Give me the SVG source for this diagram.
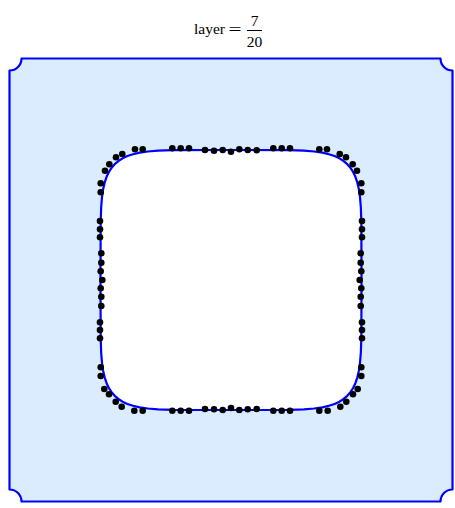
<svg xmlns="http://www.w3.org/2000/svg" width="455" height="508" viewBox="0 0 455 508">
<style>
.t{font-family:"Liberation Serif","Times New Roman",serif;font-size:15.5px;fill:#000}
.dot{fill:#000}
.edge{stroke:#0000ff;stroke-width:2.2;stroke-linejoin:round}
</style>
<rect width="455" height="508" fill="#ffffff"/>
<g id="title">
<text class="t" x="209.5" y="34" text-anchor="middle">layer</text>
<text class="t" x="228.5" y="35" style="font-size:16px" textLength="13" lengthAdjust="spacingAndGlyphs">=</text>
<text class="t" x="254.5" y="25.5" text-anchor="middle">7</text>
<line x1="247" y1="30.5" x2="262" y2="30.5" stroke="#000" stroke-width="1"/>
<text class="t" x="254.5" y="46.5" text-anchor="middle">20</text>
</g>
<g id="frame">
<path class="edge" fill="#dcecff" d="M 21.5 58.5 H 440.5 A 12 12 0 0 0 452.5 70.5 V 489.5 A 12 12 0 0 0 440.5 501.5 H 21.5 A 12 12 0 0 0 9.5 489.5 V 70.5 A 12 12 0 0 0 21.5 58.5 Z"/>
</g>
<g id="hole">
<path class="edge" fill="#ffffff" d="M 361.5 280 L 361.33 337.64 L 360.83 352.53 L 360 362.85 L 358.82 370.91 L 357.28 377.55 L 355.39 383.18 L 353.11 388 L 350.41 392.19 L 347.26 395.82 L 343.62 398.95 L 339.42 401.64 L 334.58 403.92 L 328.93 405.8 L 322.26 407.34 L 314.17 408.51 L 303.81 409.34 L 288.86 409.83 L 231 410 L 173.14 409.83 L 158.19 409.34 L 147.83 408.51 L 139.74 407.34 L 133.07 405.8 L 127.42 403.92 L 122.58 401.64 L 118.38 398.95 L 114.74 395.82 L 111.59 392.19 L 108.89 388 L 106.61 383.18 L 104.72 377.55 L 103.18 370.91 L 102 362.85 L 101.17 352.53 L 100.67 337.64 L 100.5 280 L 100.67 222.36 L 101.17 207.47 L 102 197.15 L 103.18 189.09 L 104.72 182.45 L 106.61 176.82 L 108.89 172 L 111.59 167.81 L 114.74 164.18 L 118.38 161.05 L 122.58 158.36 L 127.42 156.08 L 133.07 154.2 L 139.74 152.66 L 147.83 151.49 L 158.19 150.66 L 173.14 150.17 L 231 150 L 288.86 150.17 L 303.81 150.66 L 314.17 151.49 L 322.26 152.66 L 328.93 154.2 L 334.58 156.08 L 339.42 158.36 L 343.62 161.05 L 347.26 164.18 L 350.41 167.81 L 353.11 172 L 355.39 176.82 L 357.28 182.45 L 358.82 189.09 L 360 197.15 L 360.83 207.47 L 361.33 222.36 Z"/>
</g>
<g id="points" class="dot">
<circle cx="172.3" cy="148.3" r="3.3"/><circle cx="180.7" cy="148.3" r="3.3"/><circle cx="189" cy="148.3" r="3.3"/>
<circle cx="205" cy="150" r="3.3"/><circle cx="214" cy="150.7" r="3.3"/><circle cx="222.7" cy="150" r="3.3"/><circle cx="231" cy="151.7" r="3.3"/><circle cx="239.3" cy="149.3" r="3.3"/><circle cx="247.7" cy="150" r="3.3"/><circle cx="256.7" cy="150.3" r="3.3"/>
<circle cx="273.3" cy="148.3" r="3.3"/><circle cx="281.7" cy="148.3" r="3.3"/><circle cx="290" cy="148.3" r="3.3"/>
<circle cx="135" cy="149.3" r="3.3"/><circle cx="142.7" cy="149.3" r="3.3"/><circle cx="122.3" cy="154" r="3.3"/><circle cx="116" cy="157.3" r="3.3"/><circle cx="109.3" cy="164.3" r="3.3"/><circle cx="105" cy="170.7" r="3.3"/><circle cx="100.7" cy="183.3" r="3.3"/><circle cx="100.7" cy="192.3" r="3.3"/>
<circle cx="319.3" cy="149.3" r="3.3"/><circle cx="327" cy="149.3" r="3.3"/><circle cx="339.7" cy="154" r="3.3"/><circle cx="346" cy="157.3" r="3.3"/><circle cx="352.7" cy="164.3" r="3.3"/><circle cx="357" cy="170.7" r="3.3"/><circle cx="361.3" cy="183.3" r="3.3"/><circle cx="361.3" cy="192.3" r="3.3"/>
<circle cx="100" cy="221" r="3.3"/><circle cx="100" cy="229.3" r="3.3"/><circle cx="100" cy="237.3" r="3.3"/><circle cx="101.3" cy="253.3" r="3.3"/><circle cx="101.3" cy="262.7" r="3.3"/><circle cx="100.7" cy="271.3" r="3.3"/><circle cx="102.3" cy="280" r="3.3"/><circle cx="100.7" cy="288.3" r="3.3"/><circle cx="101.3" cy="296.7" r="3.3"/><circle cx="101.3" cy="306" r="3.3"/><circle cx="100" cy="322.3" r="3.3"/><circle cx="100" cy="330" r="3.3"/><circle cx="100" cy="338.3" r="3.3"/>
<circle cx="362" cy="221" r="3.3"/><circle cx="362" cy="229.3" r="3.3"/><circle cx="362" cy="237.3" r="3.3"/><circle cx="360.7" cy="253.3" r="3.3"/><circle cx="360.7" cy="262.7" r="3.3"/><circle cx="361.3" cy="271.3" r="3.3"/><circle cx="359.7" cy="280" r="3.3"/><circle cx="361.3" cy="288.3" r="3.3"/><circle cx="360.7" cy="296.7" r="3.3"/><circle cx="360.7" cy="306" r="3.3"/><circle cx="362" cy="322.3" r="3.3"/><circle cx="362" cy="330" r="3.3"/><circle cx="362" cy="338.3" r="3.3"/>
<circle cx="100.7" cy="367.3" r="3.3"/><circle cx="100.7" cy="376" r="3.3"/><circle cx="104.3" cy="389" r="3.3"/><circle cx="109" cy="394.3" r="3.3"/><circle cx="115.7" cy="401.7" r="3.3"/><circle cx="121.7" cy="406.7" r="3.3"/><circle cx="134.3" cy="410.7" r="3.3"/><circle cx="142.7" cy="410.7" r="3.3"/>
<circle cx="361.3" cy="367.3" r="3.3"/><circle cx="361.3" cy="376" r="3.3"/><circle cx="357.7" cy="389" r="3.3"/><circle cx="353" cy="394.3" r="3.3"/><circle cx="346.3" cy="401.7" r="3.3"/><circle cx="340.3" cy="406.7" r="3.3"/><circle cx="327.7" cy="410.7" r="3.3"/><circle cx="319.3" cy="410.7" r="3.3"/>
<circle cx="172.3" cy="410.7" r="3.3"/><circle cx="180.7" cy="410.7" r="3.3"/><circle cx="189" cy="410.7" r="3.3"/>
<circle cx="205" cy="409" r="3.3"/><circle cx="214" cy="409.3" r="3.3"/><circle cx="222.7" cy="410" r="3.3"/><circle cx="231" cy="408" r="3.3"/><circle cx="239.3" cy="410" r="3.3"/><circle cx="247.7" cy="409.3" r="3.3"/><circle cx="256.7" cy="409" r="3.3"/>
<circle cx="273.3" cy="410.7" r="3.3"/><circle cx="281.7" cy="410.7" r="3.3"/><circle cx="290" cy="410.7" r="3.3"/>
</g>
</svg>
